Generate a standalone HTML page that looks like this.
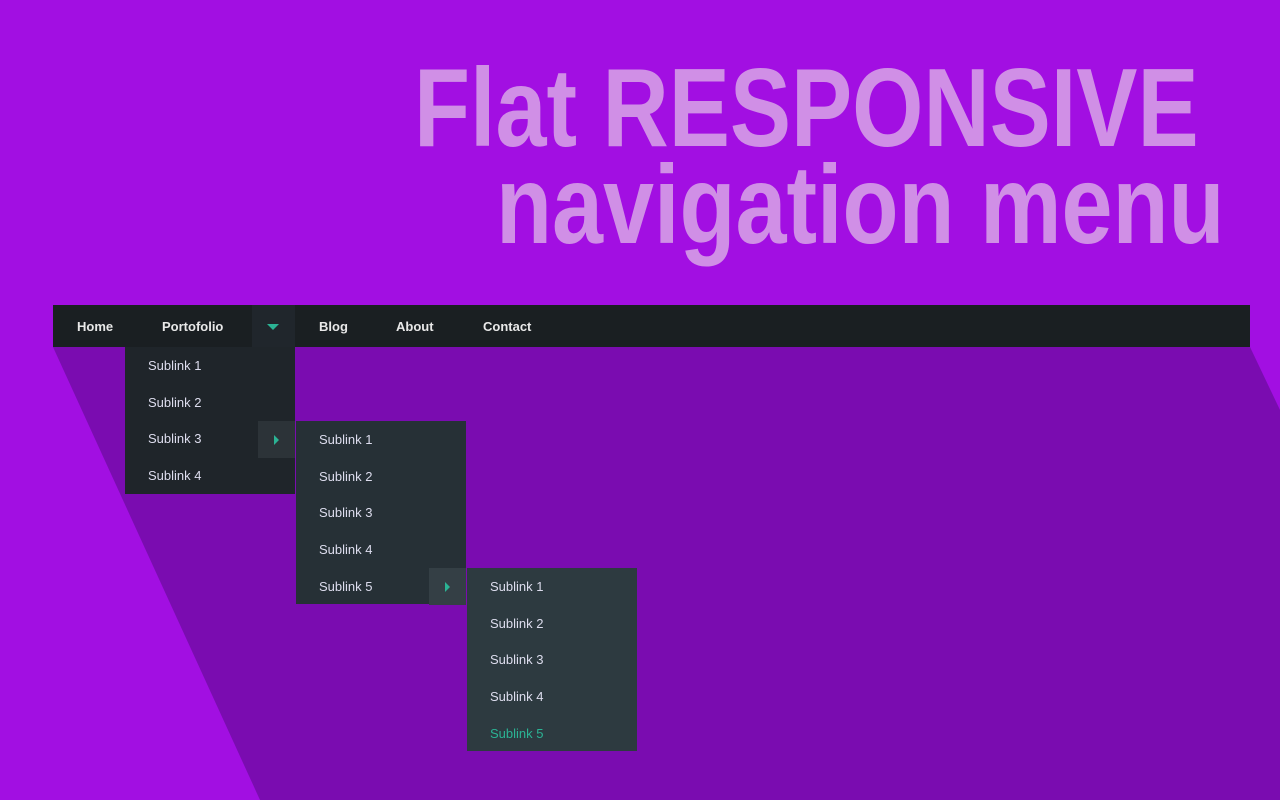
<!DOCTYPE html>
<html><head><style>
body{margin:0;width:1280px;height:800px;overflow:hidden;background:#a20fe2;position:relative;font-family:"Liberation Sans",Arial,sans-serif}
.t{position:absolute;font-weight:bold;color:#d08fe6;font-size:111px;white-space:nowrap;line-height:1;transform:scaleX(0.826);transform-origin:0 0}
.bar{position:absolute;left:53px;top:305px;width:1197px;height:42px;background:#1a1f22}
.n{position:absolute;top:306px;height:42px;line-height:42px;color:#e8e8e8;font-weight:bold;font-size:13px}
.m{position:absolute;width:170px}
.m div{height:36.7px;line-height:38px;padding-left:23px;color:#dde;font-size:13px}
.blk{position:absolute;width:37px;height:37px}
</style></head><body>
<svg style="position:absolute;left:0;top:0" width="1280" height="800"><polygon points="53,347 1250,347 1280,410 1280,800 260,800" fill="#7a0cb0"/></svg>
<div class="t" style="left:414px;top:53px">Flat RESPONSIVE</div>
<div class="t" style="left:496px;top:150px">navigation menu</div>
<div class="bar"></div>
<div style="position:absolute;left:252px;top:305px;width:43px;height:42px;background:#20262c"></div>
<div style="position:absolute;left:267px;top:324px;width:0;height:0;border-left:6px solid transparent;border-right:6px solid transparent;border-top:6px solid #2bb394"></div>
<div class="n" style="left:77px">Home</div>
<div class="n" style="left:162px">Portofolio</div>
<div class="n" style="left:319px">Blog</div>
<div class="n" style="left:396px">About</div>
<div class="n" style="left:483px">Contact</div>
<div class="m" style="left:125px;top:347px;background:#1f252a"><div>Sublink 1</div><div>Sublink 2</div><div>Sublink 3</div><div>Sublink 4</div></div>
<div class="blk" style="left:258px;top:421px;background:#2c3338"></div>
<div style="position:absolute;left:274px;top:435px;border-top:5px solid transparent;border-bottom:5px solid transparent;border-left:5px solid #2bb394"></div>
<div class="m" style="left:296px;top:421px;background:#263036"><div>Sublink 1</div><div>Sublink 2</div><div>Sublink 3</div><div>Sublink 4</div><div>Sublink 5</div></div>
<div class="blk" style="left:429px;top:568px;background:#343f45"></div>
<div style="position:absolute;left:445px;top:582px;border-top:5px solid transparent;border-bottom:5px solid transparent;border-left:5px solid #2bb394"></div>
<div class="m" style="left:467px;top:568px;background:#2d3a40"><div>Sublink 1</div><div>Sublink 2</div><div>Sublink 3</div><div>Sublink 4</div><div style="color:#2bb394">Sublink 5</div></div>
</body></html>
